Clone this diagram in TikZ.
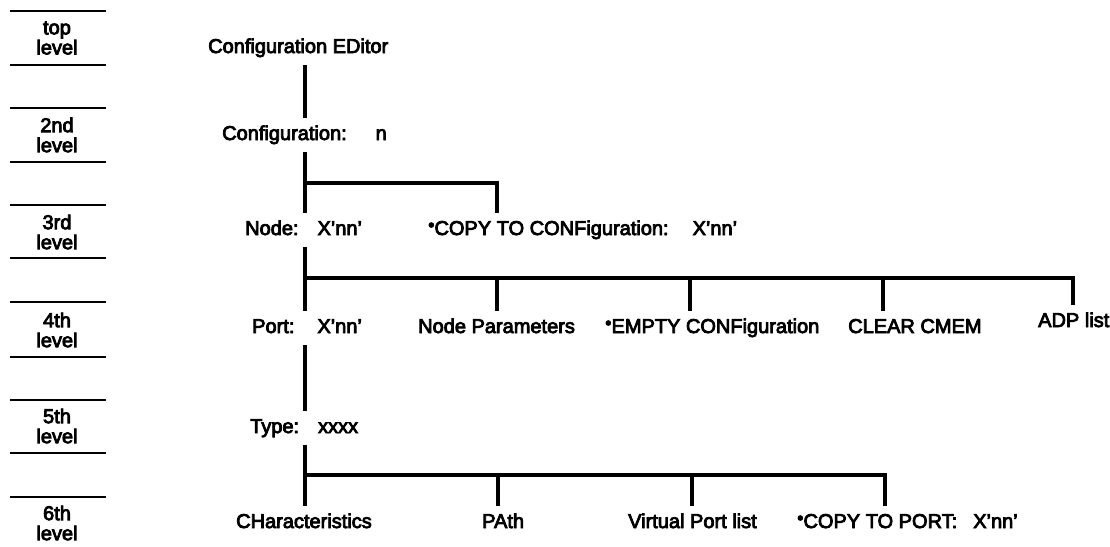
\documentclass[tikz,border=0pt]{standalone}
\usepackage{fontspec}
\setmainfont{Liberation Sans}[FakeBold=4]
\usepackage{tikz}

\newcommand{\stardot}{\raisebox{4pt}{\fontsize{18}{18}\selectfont •}}

\tikzset{
  lbl/.style={anchor=west, inner xsep=0pt, inner ysep=8pt, text height=14pt, text depth=4pt,
    font=\fontsize{20}{20}\selectfont},
  lvl/.style={align=center, inner sep=0pt, font=\fontsize{20}{20}\selectfont},
  trunk/.style={line width=3.2pt},
  rule/.style={line width=2pt}
}

\begin{document}
\begin{tikzpicture}[x=1pt, y=-1pt]
  \useasboundingbox (0,0) rectangle (1110,546);

  % levels on the left
  \foreach \y in {11,65,108,162,205,258,302,357,400,453,497}
    \draw[rule] (10,\y) -- (106,\y);
  \node[lvl] (lv1) at (57,38) {top\\level};
  \node[lvl] (lv2) at (57,135) {2nd\\level};
  \node[lvl] (lv3) at (57,232) {3rd\\level};
  \node[lvl] (lv4) at (57,330) {4th\\level};
  \node[lvl] (lv5) at (57,426) {5th\\level};
  \node[lvl] (lv6) at (57,523) {6th\\level};

  % the tree
  \coordinate (spine) at (305,0);
  \node[lbl] (ced) at (208,48) {Configuration EDitor};
  \node[lbl] (conf) at (222,135) {Configuration:\hspace{1.45em}n};
  \node[lbl] (nodelbl) at (245,230) {Node:\hspace{0.95em}X'nn'};
  \node[lbl] (copycfg) at (428,230) {\stardot COPY TO CONFiguration:\hspace{1.2em}X'nn'};
  \node[lbl] (port) at (252,328) {Port:\hspace{1.15em}X'nn'};
  \node[lbl] (nodepar) at (418,328) {Node Parameters};
  \node[lbl] (empty) at (605,328) {\stardot EMPTY CONFiguration};
  \node[lbl] (clear) at (848,328) {CLEAR CMEM};
  \node[lbl] (adp) at (1038,322) {ADP list};
  \node[lbl] (type) at (250,428) {Type:\hspace{0.95em}xxxx};
  \node[lbl] (charac) at (236,523) {CHaracteristics};
  \node[lbl] (pathn) at (482,523) {PAth};
  \node[lbl] (vport) at (628,523) {Virtual Port list};
  \node[lbl] (copyport) at (797,523) {\stardot COPY TO PORT:\hspace{0.8em}X'nn'};

  \coordinate (j3) at (497,183);
  \coordinate (j4a) at (497,278);
  \coordinate (j4b) at (690,278);
  \coordinate (j4c) at (883,278);
  \coordinate (j4d) at (1073,278);
  \coordinate (j6a) at (498,475);
  \coordinate (j6b) at (692,475);
  \coordinate (j6c) at (885,475);

  \draw[trunk] (ced.south -| spine) -- (conf.north -| spine);
  \draw[trunk] (conf.south -| spine) -- (nodelbl.north -| spine);
  \draw[trunk] (spine |- j3) -- (j3) -- (j3 |- copycfg.north);

  \draw[trunk] (nodelbl.south -| spine) -- (port.north -| spine);
  \draw[trunk] (spine |- j4d) -- (j4d) -- (j4d |- adp.north);
  \draw[trunk] (j4a) -- (j4a |- nodepar.north);
  \draw[trunk] (j4b) -- (j4b |- empty.north);
  \draw[trunk] (j4c) -- (j4c |- clear.north);

  \draw[trunk] (port.south -| spine) -- (type.north -| spine);
  \draw[trunk] (type.south -| spine) -- (charac.north -| spine);
  \draw[trunk] (spine |- j6c) -- (j6c) -- (j6c |- copyport.north);
  \draw[trunk] (j6a) -- (j6a |- pathn.north);
  \draw[trunk] (j6b) -- (j6b |- vport.north);
\end{tikzpicture}
\end{document}
